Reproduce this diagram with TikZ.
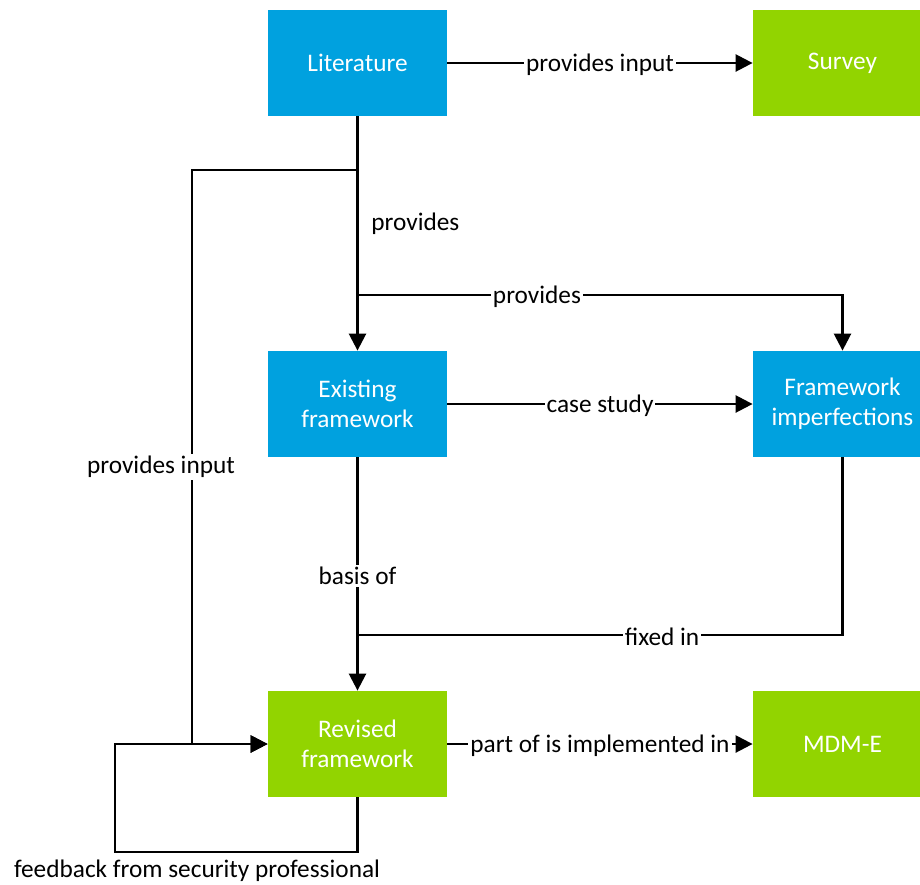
\documentclass[tikz,border=0pt]{standalone}
\usepackage{fontspec}
\setmainfont{Carlito}
\usetikzlibrary{arrows.meta,positioning}
\definecolor{boxblue}{RGB}{0,161,223}
\definecolor{boxgreen}{RGB}{146,212,0}
\newcommand{\lblfont}{\fontsize{12.65}{15}\selectfont}

\tikzset{
  box/.style={rectangle, minimum width=89.5pt, minimum height=53pt, inner sep=0pt,
    text=white, align=center, font=\lblfont},
  bluebox/.style={box, fill=boxblue},
  greenbox/.style={box, fill=boxgreen},
  link/.style={line width=1.25pt, -{Triangle[length=8.5pt, width=8.5pt]}},
  plain/.style={line width=1.25pt},
  lbl/.style={fill=white, inner sep=1pt, yshift=-1pt, font=\lblfont},
}

\begin{document}
\begin{tikzpicture}[x=0.5pt, y=-0.5pt]
  \useasboundingbox (0,0) rectangle (920,884);

  % boxes
  \node [bluebox]  (lit)     at (357.5,63)  {Literature};
  \node [greenbox] (survey)  at (842.5,63)  {Survey};
  \node [bluebox]  (exist)   at (357.5,404) {Existing\\framework};
  \node [bluebox]  (imperf)  at (842.5,404) {Framework\\imperfections};
  \node [greenbox] (revised) at (357.5,744) {Revised\\framework};
  \node [greenbox] (mdme)    at (842.5,744) {MDM-E};

  % bends and joins
  \coordinate (split0) at (357.5,170);
  \coordinate (split1) at (357.5,295);
  \coordinate (fbk)    at (192,744);
  \coordinate (join)   at (357.5,635);
  \coordinate (loopa)  at (357.5,852);
  \coordinate (loopb)  at (115,744);

  % connectors
  \draw [link] (lit) -- node [lbl] {provides input} (survey);
  \draw [link] (lit) -- node [right=3pt, pos=0.46, font=\lblfont] {provides} (exist);
  \draw [link] (split1) -| node [lbl, pos=0.185] {provides} (imperf);
  \draw [link] (split0) -| (fbk) -- (revised);
  \node [lbl] (pin) at (161,465) {provides input};
  \draw [link] (exist) -- node [lbl] {case study} (imperf);
  \draw [link] (exist) -- node [lbl] {basis of} (revised);
  \draw [plain] (imperf) |- node [lbl, pos=0.686] {fixed in} (join);
  \draw [link] (revised) -- node [lbl] {part of is implemented in} (mdme);
  \draw [link] (revised) -- (loopa) -| (loopb) -- (revised);
  \node [font=\lblfont] (fb) at (197,871) {feedback from security professional};
\end{tikzpicture}
\end{document}
